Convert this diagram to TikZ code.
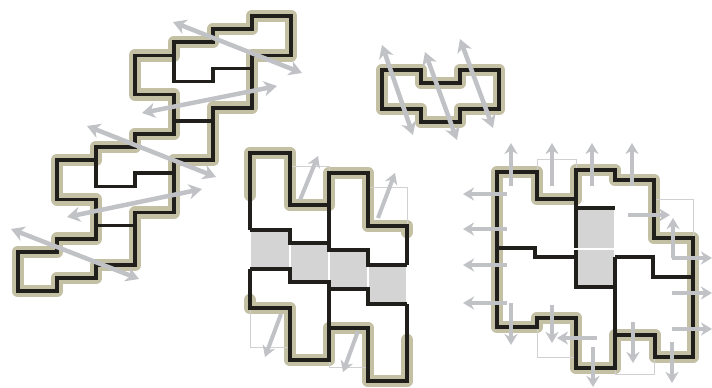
\documentclass[tikz,border=0pt]{standalone}
\usepackage{tikz}
\usetikzlibrary{arrows.meta}
\definecolor{rimc}{RGB}{32,31,28}
\definecolor{haloc}{RGB}{196,192,164}
\definecolor{arrowc}{RGB}{192,194,198}
\definecolor{tilec}{RGB}{212,212,212}

\begin{document}
\begin{tikzpicture}[x=1pt, y=-1pt,
  halo/.style={haloc, line width=12.5pt, line cap=round, line join=round},
  rim/.style={rimc, line width=3.6pt},
  ghost/.style={black!18, line width=0.7pt},
  tile/.style={fill=tilec, draw=white, line width=1.2pt},
  onearrow/.style={arrowc, line width=4pt, -{Stealth[length=11pt, width=13pt, inset=3.5pt]}},
  twoarrow/.style={arrowc, line width=4.5pt, {Stealth[length=13pt, width=15pt, inset=4pt]}-{Stealth[length=13pt, width=15pt, inset=4pt]}}]

\useasboundingbox (0,0) rectangle (712,388);

% grid: staircase x=18+39c, y=16+13.1r ; small piece x=382+39c, y=70+13r

%% ── halos (background) ───────────────────────────────────────────
\begin{scope}[shift={(18,16)}, x=39pt, y=-13.1pt]
  \draw[halo] (6,0) -- (7,0) -- (7,3) -- (6,3) -- (6,7) -- (5,7) -- (5,11) -- (4,11) -- (4,15) -- (3,15)
    -- (3,19) -- (2,19) -- (2,20) -- (1,20) -- (1,21) -- (0,21) -- (0,18) -- (1,18) -- (1,17) -- (2,17)
    -- (2,14) -- (1,14) -- (1,11) -- (2,11) -- (2,10) -- (3,10) -- (3,9) -- (4,9) -- (4,6) -- (3,6)
    -- (3,3) -- (4,3) -- (4,2) -- (5,2) -- (5,1) -- (6,1) -- cycle;
\end{scope}
\begin{scope}[shift={(382,70)}, x=39pt, y=-13pt]
  \draw[halo] (0,0) -- (1,0) -- (1,1) -- (2,1) -- (2,0) -- (3,0) -- (3,3) -- (2,3) -- (2,4) -- (1,4) -- (1,3) -- (0,3) -- cycle;
\end{scope}
\draw[halo] (250,195) -- (250,153) -- (290,153) -- (290,205) -- (329,205) -- (329,173) -- (368,173) -- (368,226) -- (407,226) -- (407,232);
\draw[halo] (250,300) -- (250,308) -- (290,308) -- (290,360) -- (329,360) -- (329,328) -- (368,328) -- (368,381) -- (407,381) -- (407,340);
\draw[halo] (497,172) -- (537,172) -- (537,199) -- (576,199) -- (576,170) -- (615,170) -- (615,180) -- (654,180) -- (654,238)
  -- (693,238) -- (693,357) -- (655,357) -- (655,335) -- (615,335) -- (615,368) -- (576,368) -- (576,318) -- (537,318)
  -- (537,327) -- (497,327) -- cycle;

%% ── ghost cells ──────────────────────────────────────────────────
\draw[ghost] (290,166) rectangle (329,205);
\draw[ghost] (368,187) rectangle (407,226);
\draw[ghost] (250,308) rectangle (290,347);
\draw[ghost] (329,328) rectangle (368,367);
\draw[ghost] (537,159) rectangle (576,199);
\draw[ghost] (654,199) rectangle (693,238);
\draw[ghost] (537,318) rectangle (576,357);
\draw[ghost] (615,335) rectangle (654,374);

%% ── grey tiles ───────────────────────────────────────────────────
\draw[tile] (250,230) rectangle (290,269);
\draw[tile] (290,243) rectangle (329,282);
\draw[tile] (329,250) rectangle (368,289);
\draw[tile] (368,265) rectangle (407,304);
\draw[tile] (576,208) rectangle (615,248.5);
\draw[tile] (576,249.5) rectangle (615,288);

%% ── staircase ────────────────────────────────────────────────────
\begin{scope}[shift={(18,16)}, x=39pt, y=-13.1pt]
  \draw[rim] (6,0) -- (7,0) -- (7,3) -- (6,3) -- (6,7) -- (5,7) -- (5,11) -- (4,11) -- (4,15) -- (3,15)
    -- (3,19) -- (2,19) -- (2,20) -- (1,20) -- (1,21) -- (0,21) -- (0,18) -- (1,18) -- (1,17) -- (2,17)
    -- (2,14) -- (1,14) -- (1,11) -- (2,11) -- (2,10) -- (3,10) -- (3,9) -- (4,9) -- (4,6) -- (3,6)
    -- (3,3) -- (4,3) -- (4,2) -- (5,2) -- (5,1) -- (6,1) -- cycle;
  \draw[rim] (4,3) -- (4,5) -- (5,5) -- (5,4) -- (6,4);
  \draw[rim] (4,8) -- (5,8);
  \draw[rim] (2,11) -- (2,13) -- (3,13) -- (3,12) -- (4,12);
  \draw[rim] (2,16) -- (3,16);
\end{scope}

%% ── small piece ──────────────────────────────────────────────────
\begin{scope}[shift={(382,70)}, x=39pt, y=-13pt]
  \draw[rim] (0,0) -- (1,0) -- (1,1) -- (2,1) -- (2,0) -- (3,0) -- (3,3) -- (2,3) -- (2,4) -- (1,4) -- (1,3) -- (0,3) -- cycle;
\end{scope}

%% ── middle block ─────────────────────────────────────────────────
\draw[rim] (250,230) -- (250,153) -- (290,153) -- (290,205) -- (329,205) -- (329,173) -- (368,173) -- (368,226) -- (407,226) -- (407,265);
\draw[rim] (250,230) -- (290,230) -- (290,243) -- (329,243);
\draw[rim] (329,205) -- (329,250) -- (368,250) -- (368,265) -- (407,265);
\draw[rim] (250,269) -- (250,308) -- (290,308) -- (290,360) -- (329,360) -- (329,328) -- (368,328) -- (368,381) -- (407,381) -- (407,304);
\draw[rim] (250,269) -- (290,269) -- (290,282) -- (329,282) -- (329,328);
\draw[rim] (329,289) -- (368,289) -- (368,304) -- (407,304);

%% ── right block ──────────────────────────────────────────────────
\draw[rim] (497,172) -- (537,172) -- (537,199) -- (576,199) -- (576,170) -- (615,170) -- (615,180) -- (654,180) -- (654,238)
  -- (693,238) -- (693,357) -- (655,357) -- (655,335) -- (615,335) -- (615,368) -- (576,368) -- (576,318) -- (537,318)
  -- (537,327) -- (497,327) -- cycle;
\draw[rim] (497,248) -- (535,248) -- (535,257) -- (576,257);
\draw[rim] (576,199) -- (576,248);
\draw[rim] (576,208) -- (615,208);
\draw[rim] (576,250) -- (576,287) -- (615,287);
\draw[rim] (615,257) -- (615,335);
\draw[rim] (615,257) -- (653,257) -- (653,277) -- (693,277);

%% ── moves ────────────────────────────────────────────────────────
\draw[twoarrow] (173,22) -- (302,73);
\draw[twoarrow] (142,113) -- (277,86);
\draw[twoarrow] (87,126) -- (216,177);
\draw[twoarrow] (67,217) -- (202,189);
\draw[twoarrow] (11,229) -- (139,279);
\draw[twoarrow] (382,45) -- (413,135);
\draw[twoarrow] (425,52) -- (457,140);
\draw[twoarrow] (460,39) -- (493,128);

\draw[onearrow] (300,200) -- (318,156);
\draw[onearrow] (378,218) -- (395,173);
\draw[onearrow] (281,314) -- (265,357);
\draw[onearrow] (358,331) -- (343,372);

\foreach \x in {511,552,592,632}{\draw[onearrow] (\x,186) -- (\x,143);}
\foreach \y in {194,229,265,303}{\draw[onearrow] (507,\y) -- (463,\y);}
\foreach \y in {258,293,329}{\draw[onearrow] (672,\y) -- (712,\y);}
\draw[onearrow] (628,215) -- (670,215);
\draw[onearrow] (673,258) -- (673,218);
\draw[onearrow] (511,303) -- (511,345);
\draw[onearrow] (552,305) -- (552,343);
\draw[onearrow] (593,347) -- (593,387);
\draw[onearrow] (633,322) -- (633,363);
\draw[onearrow] (672,342) -- (672,383);
\draw[onearrow] (597,338) -- (557,338);

\end{tikzpicture}
\end{document}
